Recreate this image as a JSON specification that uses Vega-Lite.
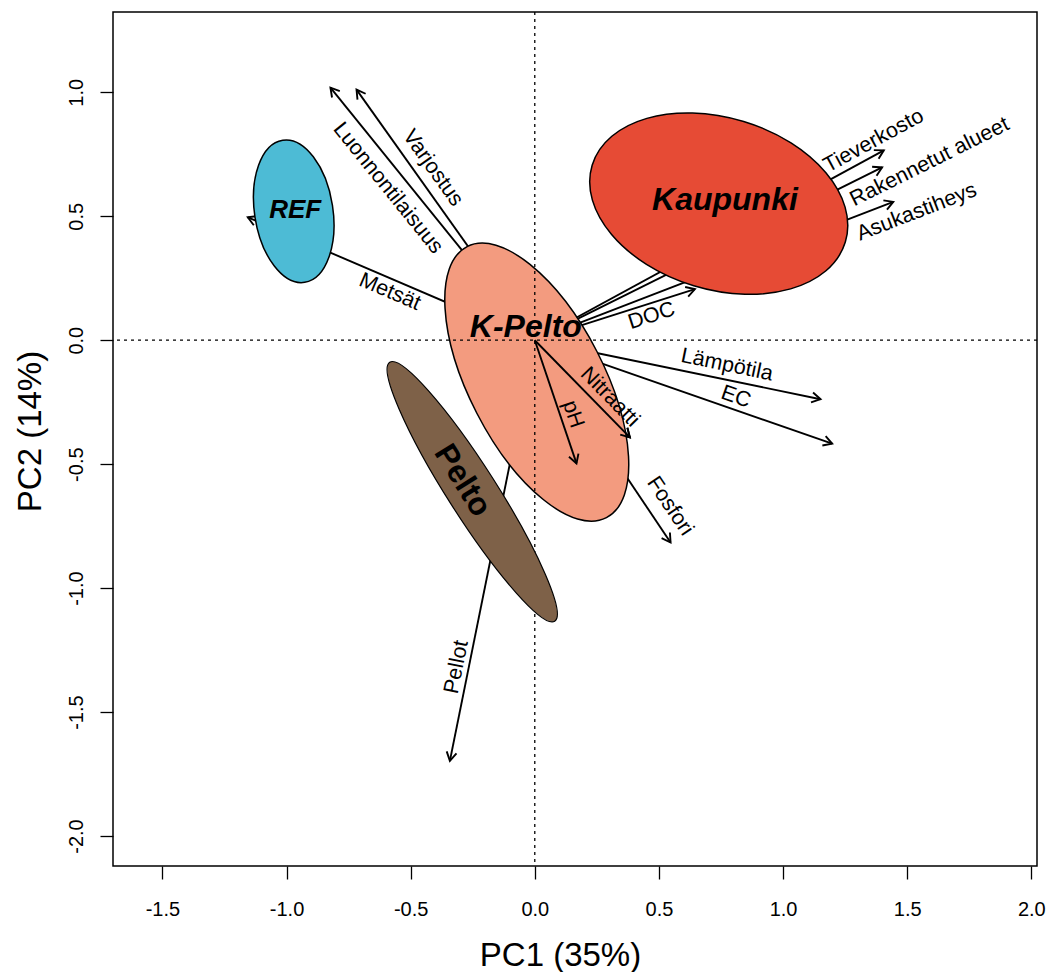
{
  "$schema": "https://vega.github.io/schema/vega-lite/v6.json",
  "width": 924,
  "height": 854,
  "autosize": "none",
  "padding": {"left": 113, "top": 12, "right": 13, "bottom": 106},
  "background": "white",
  "view": {"stroke": "black", "strokeWidth": 1.5},
  "config": {
    "axis": {"grid": false, "domain": false, "ticks": true, "tickColor": "black", "tickSize": 13, "tickWidth": 1.3,
      "labelColor": "black", "labelFont": "Liberation Sans", "labelFontSize": 20,
      "titleFont": "Liberation Sans", "titleFontSize": 33, "titleFontWeight": "normal", "titleColor": "black"}
  },
  "datasets": {
    "arrows": [
      {"v": "Metsät", "x": -1.156, "y": 0.496, "lx": -0.584, "ly": 0.194},
      {"v": "Luonnontilaisuus", "x": -0.823, "y": 1.019, "lx": -0.592, "ly": 0.613},
      {"v": "Varjostus", "x": -0.718, "y": 1.011, "lx": -0.411, "ly": 0.694},
      {"v": "Tieverkosto", "x": 1.406, "y": 0.766, "lx": 1.366, "ly": 0.803},
      {"v": "Rakennetut alueet", "x": 1.399, "y": 0.697, "lx": 1.591, "ly": 0.718},
      {"v": "Asukastiheys", "x": 1.444, "y": 0.558, "lx": 1.539, "ly": 0.516},
      {"v": "DOC", "x": 0.645, "y": 0.206, "lx": 0.471, "ly": 0.097},
      {"v": "Lämpötila", "x": 1.151, "y": -0.238, "lx": 0.774, "ly": -0.101},
      {"v": "EC", "x": 1.198, "y": -0.417, "lx": 0.810, "ly": -0.230},
      {"v": "Nitraatti", "x": 0.383, "y": -0.392, "lx": 0.302, "ly": -0.230},
      {"v": "pH", "x": 0.168, "y": -0.497, "lx": 0.153, "ly": -0.299},
      {"v": "Fosfori", "x": 0.547, "y": -0.816, "lx": 0.544, "ly": -0.670},
      {"v": "Pellot", "x": -0.342, "y": -1.697, "lx": -0.314, "ly": -1.319}
    ],
    "groups": [
      {"g": "REF", "x": -0.971, "y": 0.520, "tx": -0.965, "ty": 0.495},
      {"g": "Kaupunki", "x": 0.741, "y": 0.551, "tx": 0.766, "ty": 0.524},
      {"g": "K-Pelto", "x": 0.008, "y": -0.169, "tx": -0.036, "ty": 0.013},
      {"g": "Pelto", "x": -0.252, "y": -0.611, "tx": -0.290, "ty": -0.565}
    ]
  },
  "layer": [
    {
      "data": {"name": "arrows"},
      "mark": {"type": "rule", "color": "black", "strokeWidth": 1.9},
      "encoding": {
        "x": {"field": "x", "type": "quantitative", "scale": {"domain": [-1.699, 2.023], "nice": false, "zero": false},
          "axis": {"values": [-1.5, -1, -0.5, 0, 0.5, 1, 1.5, 2], "labelExpr": "replace(format(datum.value, '.1f'), '\u2212', '-')", "labelPadding": 20, "title": "PC1 (35%)", "titleBaseline": "alphabetic", "titleAlign": "center", "titleX": 447, "titleY": 99}},
        "y": {"field": "y", "type": "quantitative", "scale": {"domain": [-2.121, 1.324], "nice": false, "zero": false},
          "axis": {"values": [-2, -1.5, -1, -0.5, 0, 0.5, 1], "labelExpr": "replace(format(datum.value, '.1f'), '\u2212', '-')", "labelAngle": -90, "labelAlign": "center", "labelBaseline": "alphabetic", "labelPadding": 18, "title": "PC2 (14%)", "titleAngle": -90, "titleAlign": "center", "titleBaseline": "alphabetic", "titleX": -73, "titleY": 419}},
        "x2": {"datum": 0},
        "y2": {"datum": 0}
      }
    },
    {
      "data": {"name": "arrows"},
      "transform": [{"calculate": "atan2(datum.x, datum.y) * 180 / PI", "as": "ha"}],
      "mark": {"type": "point", "shape": "M -0.5 0.866 L 0 0 L 0.5 0.866", "size": 400, "filled": false, "stroke": "black", "strokeWidth": 1.9, "opacity": 1},
      "encoding": {
        "x": {"field": "x", "type": "quantitative", "scale": {"domain": [-1.699, 2.023], "nice": false, "zero": false},
          "axis": {"values": [-1.5, -1, -0.5, 0, 0.5, 1, 1.5, 2], "labelExpr": "replace(format(datum.value, '.1f'), '\u2212', '-')", "labelPadding": 20, "title": "PC1 (35%)", "titleBaseline": "alphabetic", "titleAlign": "center", "titleX": 447, "titleY": 99}},
        "y": {"field": "y", "type": "quantitative", "scale": {"domain": [-2.121, 1.324], "nice": false, "zero": false},
          "axis": {"values": [-2, -1.5, -1, -0.5, 0, 0.5, 1], "labelExpr": "replace(format(datum.value, '.1f'), '\u2212', '-')", "labelAngle": -90, "labelAlign": "center", "labelBaseline": "alphabetic", "labelPadding": 18, "title": "PC2 (14%)", "titleAngle": -90, "titleAlign": "center", "titleBaseline": "alphabetic", "titleX": -73, "titleY": 419}},
        "angle": {"field": "ha", "type": "quantitative", "scale": null}
      }
    },
    {
      "data": {"name": "groups"},
      "transform": [{"filter": "datum.g == 'K-Pelto'"}],
      "mark": {"type": "point", "shape": "M 1 0 C 1 0.245 0.5523 0.443 0 0.443 C -0.5523 0.443 -1 0.245 -1 0 C -1 -0.245 -0.5523 -0.443 0 -0.443 C 0.5523 -0.443 1 -0.245 1 0 Z", "size": 92903, "angle": 62.8, "filled": true, "fill": "#F39B7F", "stroke": "black", "strokeWidth": 1.5, "opacity": 1, "fillOpacity": 1, "strokeOpacity": 1},
      "encoding": {
        "x": {"field": "x", "type": "quantitative", "scale": {"domain": [-1.699, 2.023], "nice": false, "zero": false},
          "axis": {"values": [-1.5, -1, -0.5, 0, 0.5, 1, 1.5, 2], "labelExpr": "replace(format(datum.value, '.1f'), '\u2212', '-')", "labelPadding": 20, "title": "PC1 (35%)", "titleBaseline": "alphabetic", "titleAlign": "center", "titleX": 447, "titleY": 99}},
        "y": {"field": "y", "type": "quantitative", "scale": {"domain": [-2.121, 1.324], "nice": false, "zero": false},
          "axis": {"values": [-2, -1.5, -1, -0.5, 0, 0.5, 1], "labelExpr": "replace(format(datum.value, '.1f'), '\u2212', '-')", "labelAngle": -90, "labelAlign": "center", "labelBaseline": "alphabetic", "labelPadding": 18, "title": "PC2 (14%)", "titleAngle": -90, "titleAlign": "center", "titleBaseline": "alphabetic", "titleX": -73, "titleY": 419}}
      }
    },
    {
      "data": {"values": [{"z": 0}]},
      "mark": {"type": "rule", "color": "black", "strokeWidth": 1.3, "strokeDash": [3, 4]},
      "encoding": {
        "x": {"field": "z", "type": "quantitative", "scale": {"domain": [-1.699, 2.023], "nice": false, "zero": false},
          "axis": {"values": [-1.5, -1, -0.5, 0, 0.5, 1, 1.5, 2], "labelExpr": "replace(format(datum.value, '.1f'), '\u2212', '-')", "labelPadding": 20, "title": "PC1 (35%)", "titleBaseline": "alphabetic", "titleAlign": "center", "titleX": 447, "titleY": 99}}
      }
    },
    {
      "data": {"values": [{"z": 0}]},
      "mark": {"type": "rule", "color": "black", "strokeWidth": 1.3, "strokeDash": [3, 4]},
      "encoding": {
        "y": {"field": "z", "type": "quantitative", "scale": {"domain": [-2.121, 1.324], "nice": false, "zero": false},
          "axis": {"values": [-2, -1.5, -1, -0.5, 0, 0.5, 1], "labelExpr": "replace(format(datum.value, '.1f'), '\u2212', '-')", "labelAngle": -90, "labelAlign": "center", "labelBaseline": "alphabetic", "labelPadding": 18, "title": "PC2 (14%)", "titleAngle": -90, "titleAlign": "center", "titleBaseline": "alphabetic", "titleX": -73, "titleY": 419}}
      }
    },
    {
      "data": {"name": "arrows"},
      "transform": [{"filter": "datum.v == 'pH' || datum.v == 'Nitraatti'"}],
      "mark": {"type": "rule", "color": "black", "strokeWidth": 1.9},
      "encoding": {
        "x": {"field": "x", "type": "quantitative", "scale": {"domain": [-1.699, 2.023], "nice": false, "zero": false},
          "axis": {"values": [-1.5, -1, -0.5, 0, 0.5, 1, 1.5, 2], "labelExpr": "replace(format(datum.value, '.1f'), '\u2212', '-')", "labelPadding": 20, "title": "PC1 (35%)", "titleBaseline": "alphabetic", "titleAlign": "center", "titleX": 447, "titleY": 99}},
        "y": {"field": "y", "type": "quantitative", "scale": {"domain": [-2.121, 1.324], "nice": false, "zero": false},
          "axis": {"values": [-2, -1.5, -1, -0.5, 0, 0.5, 1], "labelExpr": "replace(format(datum.value, '.1f'), '\u2212', '-')", "labelAngle": -90, "labelAlign": "center", "labelBaseline": "alphabetic", "labelPadding": 18, "title": "PC2 (14%)", "titleAngle": -90, "titleAlign": "center", "titleBaseline": "alphabetic", "titleX": -73, "titleY": 419}},
        "x2": {"datum": 0},
        "y2": {"datum": 0}
      }
    },
    {
      "data": {"name": "arrows"},
      "transform": [{"filter": "datum.v == 'pH' || datum.v == 'Nitraatti'"}, {"calculate": "atan2(datum.x, datum.y) * 180 / PI", "as": "ha"}],
      "mark": {"type": "point", "shape": "M -0.5 0.866 L 0 0 L 0.5 0.866", "size": 400, "filled": false, "stroke": "black", "strokeWidth": 1.9, "opacity": 1},
      "encoding": {
        "x": {"field": "x", "type": "quantitative", "scale": {"domain": [-1.699, 2.023], "nice": false, "zero": false},
          "axis": {"values": [-1.5, -1, -0.5, 0, 0.5, 1, 1.5, 2], "labelExpr": "replace(format(datum.value, '.1f'), '\u2212', '-')", "labelPadding": 20, "title": "PC1 (35%)", "titleBaseline": "alphabetic", "titleAlign": "center", "titleX": 447, "titleY": 99}},
        "y": {"field": "y", "type": "quantitative", "scale": {"domain": [-2.121, 1.324], "nice": false, "zero": false},
          "axis": {"values": [-2, -1.5, -1, -0.5, 0, 0.5, 1], "labelExpr": "replace(format(datum.value, '.1f'), '\u2212', '-')", "labelAngle": -90, "labelAlign": "center", "labelBaseline": "alphabetic", "labelPadding": 18, "title": "PC2 (14%)", "titleAngle": -90, "titleAlign": "center", "titleBaseline": "alphabetic", "titleX": -73, "titleY": 419}},
        "angle": {"field": "ha", "type": "quantitative", "scale": null}
      }
    },
    {
      "data": {"name": "groups"},
      "transform": [{"filter": "datum.g == 'Pelto'"}],
      "mark": {"type": "point", "shape": "M 1 0 C 1 0.088 0.5523 0.16 0 0.16 C -0.5523 0.16 -1 0.088 -1 0 C -1 -0.088 -0.5523 -0.16 0 -0.16 C 0.5523 -0.16 1 -0.088 1 0 Z", "size": 94249, "angle": 57.5, "filled": true, "fill": "#7E6148", "stroke": "black", "strokeWidth": 1.2, "opacity": 1, "fillOpacity": 1, "strokeOpacity": 1},
      "encoding": {
        "x": {"field": "x", "type": "quantitative", "scale": {"domain": [-1.699, 2.023], "nice": false, "zero": false},
          "axis": {"values": [-1.5, -1, -0.5, 0, 0.5, 1, 1.5, 2], "labelExpr": "replace(format(datum.value, '.1f'), '\u2212', '-')", "labelPadding": 20, "title": "PC1 (35%)", "titleBaseline": "alphabetic", "titleAlign": "center", "titleX": 447, "titleY": 99}},
        "y": {"field": "y", "type": "quantitative", "scale": {"domain": [-2.121, 1.324], "nice": false, "zero": false},
          "axis": {"values": [-2, -1.5, -1, -0.5, 0, 0.5, 1], "labelExpr": "replace(format(datum.value, '.1f'), '\u2212', '-')", "labelAngle": -90, "labelAlign": "center", "labelBaseline": "alphabetic", "labelPadding": 18, "title": "PC2 (14%)", "titleAngle": -90, "titleAlign": "center", "titleBaseline": "alphabetic", "titleX": -73, "titleY": 419}}
      }
    },
    {
      "data": {"name": "groups"},
      "transform": [{"filter": "datum.g == 'REF'"}],
      "mark": {"type": "point", "shape": "M 1 0 C 1 0.301 0.5523 0.545 0 0.545 C -0.5523 0.545 -1 0.301 -1 0 C -1 -0.301 -0.5523 -0.545 0 -0.545 C 0.5523 -0.545 1 -0.301 1 0 Z", "size": 20678, "angle": 81.2, "filled": true, "fill": "#4DBBD5", "stroke": "black", "strokeWidth": 1.5, "opacity": 1, "fillOpacity": 1, "strokeOpacity": 1},
      "encoding": {
        "x": {"field": "x", "type": "quantitative", "scale": {"domain": [-1.699, 2.023], "nice": false, "zero": false},
          "axis": {"values": [-1.5, -1, -0.5, 0, 0.5, 1, 1.5, 2], "labelExpr": "replace(format(datum.value, '.1f'), '\u2212', '-')", "labelPadding": 20, "title": "PC1 (35%)", "titleBaseline": "alphabetic", "titleAlign": "center", "titleX": 447, "titleY": 99}},
        "y": {"field": "y", "type": "quantitative", "scale": {"domain": [-2.121, 1.324], "nice": false, "zero": false},
          "axis": {"values": [-2, -1.5, -1, -0.5, 0, 0.5, 1], "labelExpr": "replace(format(datum.value, '.1f'), '\u2212', '-')", "labelAngle": -90, "labelAlign": "center", "labelBaseline": "alphabetic", "labelPadding": 18, "title": "PC2 (14%)", "titleAngle": -90, "titleAlign": "center", "titleBaseline": "alphabetic", "titleX": -73, "titleY": 419}}
      }
    },
    {
      "data": {"name": "groups"},
      "transform": [{"filter": "datum.g == 'Kaupunki'"}],
      "mark": {"type": "point", "shape": "M 1 0 C 1 0.358 0.5523 0.649 0 0.649 C -0.5523 0.649 -1 0.358 -1 0 C -1 -0.358 -0.5523 -0.649 0 -0.649 C 0.5523 -0.649 1 -0.358 1 0 Z", "size": 70013, "angle": 16.9, "filled": true, "fill": "#E64B35", "stroke": "black", "strokeWidth": 1.5, "opacity": 1, "fillOpacity": 1, "strokeOpacity": 1},
      "encoding": {
        "x": {"field": "x", "type": "quantitative", "scale": {"domain": [-1.699, 2.023], "nice": false, "zero": false},
          "axis": {"values": [-1.5, -1, -0.5, 0, 0.5, 1, 1.5, 2], "labelExpr": "replace(format(datum.value, '.1f'), '\u2212', '-')", "labelPadding": 20, "title": "PC1 (35%)", "titleBaseline": "alphabetic", "titleAlign": "center", "titleX": 447, "titleY": 99}},
        "y": {"field": "y", "type": "quantitative", "scale": {"domain": [-2.121, 1.324], "nice": false, "zero": false},
          "axis": {"values": [-2, -1.5, -1, -0.5, 0, 0.5, 1], "labelExpr": "replace(format(datum.value, '.1f'), '\u2212', '-')", "labelAngle": -90, "labelAlign": "center", "labelBaseline": "alphabetic", "labelPadding": 18, "title": "PC2 (14%)", "titleAngle": -90, "titleAlign": "center", "titleBaseline": "alphabetic", "titleX": -73, "titleY": 419}}
      }
    },
    {
      "data": {"name": "arrows"},
      "transform": [
        {"calculate": "atan2(-datum.y, datum.x) * 180 / PI", "as": "a0"},
        {"calculate": "datum.a0 > 90 ? datum.a0 - 180 : (datum.a0 < -90 ? datum.a0 + 180 : datum.a0)", "as": "ta"}
      ],
      "mark": {"type": "text", "font": "Liberation Sans", "fontSize": 21.5, "color": "black", "align": "center", "baseline": "middle"},
      "encoding": {
        "x": {"field": "lx", "type": "quantitative", "scale": {"domain": [-1.699, 2.023], "nice": false, "zero": false},
          "axis": {"values": [-1.5, -1, -0.5, 0, 0.5, 1, 1.5, 2], "labelExpr": "replace(format(datum.value, '.1f'), '\u2212', '-')", "labelPadding": 20, "title": "PC1 (35%)", "titleBaseline": "alphabetic", "titleAlign": "center", "titleX": 447, "titleY": 99}},
        "y": {"field": "ly", "type": "quantitative", "scale": {"domain": [-2.121, 1.324], "nice": false, "zero": false},
          "axis": {"values": [-2, -1.5, -1, -0.5, 0, 0.5, 1], "labelExpr": "replace(format(datum.value, '.1f'), '\u2212', '-')", "labelAngle": -90, "labelAlign": "center", "labelBaseline": "alphabetic", "labelPadding": 18, "title": "PC2 (14%)", "titleAngle": -90, "titleAlign": "center", "titleBaseline": "alphabetic", "titleX": -73, "titleY": 419}},
        "text": {"field": "v", "type": "nominal"},
        "angle": {"field": "ta", "type": "quantitative", "scale": null}
      }
    },
    {
      "data": {"name": "groups"},
      "transform": [{"filter": "datum.g != 'Pelto'"}],
      "mark": {"type": "text", "font": "Liberation Sans", "fontWeight": "bold", "fontStyle": "italic", "color": "black", "align": "center", "baseline": "alphabetic"},
      "encoding": {
        "x": {"field": "tx", "type": "quantitative", "scale": {"domain": [-1.699, 2.023], "nice": false, "zero": false},
          "axis": {"values": [-1.5, -1, -0.5, 0, 0.5, 1, 1.5, 2], "labelExpr": "replace(format(datum.value, '.1f'), '\u2212', '-')", "labelPadding": 20, "title": "PC1 (35%)", "titleBaseline": "alphabetic", "titleAlign": "center", "titleX": 447, "titleY": 99}},
        "y": {"field": "ty", "type": "quantitative", "scale": {"domain": [-2.121, 1.324], "nice": false, "zero": false},
          "axis": {"values": [-2, -1.5, -1, -0.5, 0, 0.5, 1], "labelExpr": "replace(format(datum.value, '.1f'), '\u2212', '-')", "labelAngle": -90, "labelAlign": "center", "labelBaseline": "alphabetic", "labelPadding": 18, "title": "PC2 (14%)", "titleAngle": -90, "titleAlign": "center", "titleBaseline": "alphabetic", "titleX": -73, "titleY": 419}},
        "text": {"field": "g", "type": "nominal"},
        "size": {"condition": {"test": "datum.g == 'REF'", "value": 26}, "value": 32}
      }
    },
    {
      "data": {"name": "groups"},
      "transform": [{"filter": "datum.g == 'Pelto'"}],
      "mark": {"type": "text", "font": "Liberation Sans", "fontWeight": "bold", "fontSize": 32, "angle": 58, "color": "black", "align": "center", "baseline": "middle"},
      "encoding": {
        "x": {"field": "tx", "type": "quantitative", "scale": {"domain": [-1.699, 2.023], "nice": false, "zero": false},
          "axis": {"values": [-1.5, -1, -0.5, 0, 0.5, 1, 1.5, 2], "labelExpr": "replace(format(datum.value, '.1f'), '\u2212', '-')", "labelPadding": 20, "title": "PC1 (35%)", "titleBaseline": "alphabetic", "titleAlign": "center", "titleX": 447, "titleY": 99}},
        "y": {"field": "ty", "type": "quantitative", "scale": {"domain": [-2.121, 1.324], "nice": false, "zero": false},
          "axis": {"values": [-2, -1.5, -1, -0.5, 0, 0.5, 1], "labelExpr": "replace(format(datum.value, '.1f'), '\u2212', '-')", "labelAngle": -90, "labelAlign": "center", "labelBaseline": "alphabetic", "labelPadding": 18, "title": "PC2 (14%)", "titleAngle": -90, "titleAlign": "center", "titleBaseline": "alphabetic", "titleX": -73, "titleY": 419}},
        "text": {"field": "g", "type": "nominal"}
      }
    }
  ]
}
